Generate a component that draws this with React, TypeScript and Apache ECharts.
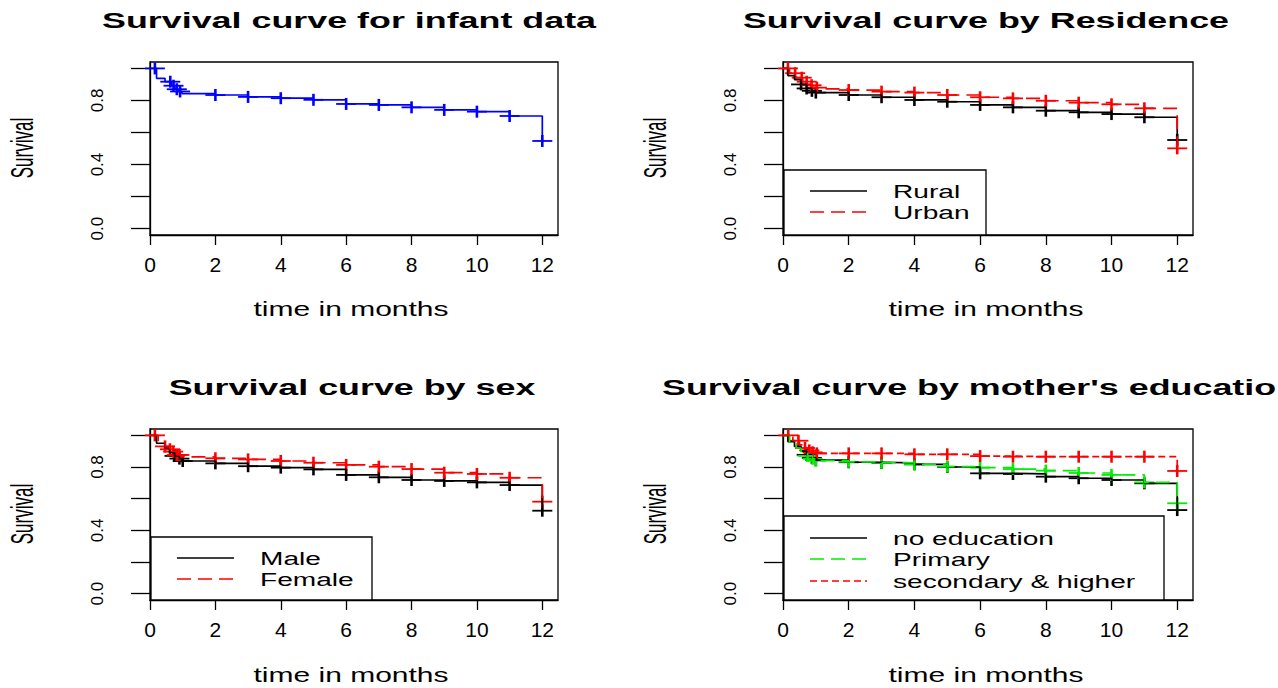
import React, { useEffect, useRef } from "react";
import * as echarts from "echarts";

// ---------- data ----------
const xTicks = [0, 2, 4, 6, 8, 10, 12];
const yTicks = [0, 0.2, 0.4, 0.6, 0.8, 1.0];
const yTickLabels = [0, 0.4, 0.8];

const panelTitles = [
  "Survival curve for infant data",
  "Survival curve by Residence",
  "Survival curve by sex",
  "Survival curve by mother's education",
];
const xAxisTitle = "time in months";
const yAxisTitle = "Survival";

// Panel 1: all infants
const allTimes = [0, 0.2, 0.46, 0.66, 0.76, 0.86, 0.98, 2, 3, 4, 5, 6, 7, 8, 9, 10, 11, 12];
const allSurv = [1, 0.938, 0.917, 0.892, 0.87, 0.856, 0.842, 0.834, 0.822, 0.814, 0.804, 0.778, 0.772, 0.757, 0.741, 0.73, 0.703, 0.547];
const allCens = [0.15, 0.62, 0.72, 0.82, 0.92, 2, 3, 4, 5, 6, 7, 8, 9, 10, 11, 12];

// Panel 2: residence
const ruralTimes = [0, 0.15, 0.35, 0.55, 0.72, 0.88, 1, 2, 3, 4, 5, 6, 7, 8, 9, 10, 11, 12];
const ruralSurv = [1, 0.955, 0.93, 0.9, 0.875, 0.86, 0.849, 0.834, 0.82, 0.803, 0.792, 0.772, 0.757, 0.736, 0.726, 0.715, 0.695, 0.553];
const ruralCens = [0.55, 0.72, 0.88, 1, 2, 3, 4, 5, 6, 7, 8, 9, 10, 11, 12];
const urbanTimes = [0, 0.2, 0.4, 0.6, 0.75, 0.9, 1.05, 2, 3, 4, 5, 6, 7, 8, 9, 10, 11, 12];
const urbanSurv = [1, 0.97, 0.942, 0.917, 0.895, 0.88, 0.872, 0.865, 0.855, 0.849, 0.834, 0.82, 0.813, 0.798, 0.786, 0.776, 0.751, 0.501];
const urbanCens = [0.15, 0.37, 0.57, 0.72, 0.87, 1.03, 2, 3, 4, 5, 6, 7, 8, 9, 10, 11, 12];

// Panel 3: sex
const maleTimes = [0, 0.2, 0.46, 0.6, 0.75, 0.9, 1, 2, 3, 4, 5, 6, 7, 8, 9, 10, 11, 12];
const maleSurv = [1, 0.95, 0.92, 0.89, 0.87, 0.853, 0.838, 0.823, 0.805, 0.796, 0.785, 0.75, 0.735, 0.718, 0.712, 0.703, 0.686, 0.524];
const maleCens = [0.75, 0.9, 1, 2, 3, 4, 5, 6, 7, 8, 9, 10, 11, 12];
const femaleTimes = [0, 0.25, 0.46, 0.61, 0.71, 0.82, 0.95, 2, 3, 4, 5, 6, 7, 8, 9, 10, 11, 12];
const femaleSurv = [1, 0.96, 0.93, 0.912, 0.897, 0.876, 0.864, 0.855, 0.848, 0.838, 0.827, 0.813, 0.802, 0.787, 0.764, 0.756, 0.732, 0.581];
const femaleCens = [0.15, 0.46, 0.61, 0.71, 0.82, 0.9, 2, 3, 4, 5, 6, 7, 8, 9, 10, 11, 12];

// Panel 4: mother's education
const noEduTimes = [0, 0.15, 0.35, 0.55, 0.72, 0.88, 1, 2, 3, 4, 5, 6, 7, 8, 9, 10, 11, 12];
const noEduSurv = [1, 0.96, 0.93, 0.9, 0.877, 0.858, 0.843, 0.83, 0.826, 0.817, 0.8, 0.76, 0.756, 0.739, 0.729, 0.718, 0.697, 0.528];
const noEduCens = [0.72, 0.88, 1, 2, 3, 4, 5, 6, 7, 8, 9, 10, 11, 12];
const primTimes = [0, 0.2, 0.4, 0.55, 0.75, 0.9, 1, 2, 3, 4, 5, 6, 7, 8, 9, 10, 11, 12];
const primSurv = [1, 0.95, 0.92, 0.895, 0.87, 0.852, 0.84, 0.833, 0.827, 0.817, 0.802, 0.796, 0.787, 0.777, 0.762, 0.75, 0.703, 0.571];
const primCens = [0.75, 0.9, 1, 2, 3, 4, 5, 6, 7, 8, 9, 10, 11, 12];
const secTimes = [0, 0.3, 0.5, 0.67, 0.8, 0.9, 1, 2, 3, 4, 5, 6, 7, 8, 9, 10, 11, 12];
const secSurv = [1, 0.966, 0.94, 0.92, 0.905, 0.893, 0.886, 0.886, 0.886, 0.88, 0.88, 0.869, 0.865, 0.865, 0.865, 0.865, 0.865, 0.775];
const secCens = [0.16, 0.47, 0.67, 0.8, 0.9, 1.03, 2, 3, 4, 5, 6, 7, 8, 9, 10, 11, 12];

const legend2 = ["Rural", "Urban"];
const legend3 = ["Male", "Female"];
const legend4 = ["no education", "Primary", "secondary & higher"];

// ---------- styling / layout ----------
const FONT = '"Liberation Sans", Arial, sans-serif';
const BLACK = "#000000";
const RED = "#ff0000";
const GREEN = "#00ee00";
const BLUE = "#0000ff";
const DASH: number[] = [14, 7];
const DOT: number[] = [7, 4];

const grids = [
  { left: 150, top: 62, width: 408, height: 173 },
  { left: 783, top: 62, width: 410, height: 173 },
  { left: 150, top: 429, width: 408, height: 171 },
  { left: 783, top: 429, width: 410, height: 171 },
];

type Curve = { panel: number; times: number[]; surv: number[]; cens: number[]; color: string; dash: any };

const curves: Curve[] = [
  { panel: 0, times: allTimes, surv: allSurv, cens: allCens, color: BLUE, dash: "solid" },
  { panel: 1, times: ruralTimes, surv: ruralSurv, cens: ruralCens, color: BLACK, dash: "solid" },
  { panel: 1, times: urbanTimes, surv: urbanSurv, cens: urbanCens, color: RED, dash: DASH },
  { panel: 2, times: maleTimes, surv: maleSurv, cens: maleCens, color: BLACK, dash: "solid" },
  { panel: 2, times: femaleTimes, surv: femaleSurv, cens: femaleCens, color: RED, dash: DASH },
  { panel: 3, times: noEduTimes, surv: noEduSurv, cens: noEduCens, color: BLACK, dash: "solid" },
  { panel: 3, times: primTimes, surv: primSurv, cens: primCens, color: GREEN, dash: DASH },
  { panel: 3, times: secTimes, surv: secSurv, cens: secCens, color: RED, dash: DOT },
];

function survAt(times: number[], surv: number[], t: number) {
  let v = surv[0];
  for (let i = 0; i < times.length; i++) if (times[i] <= t + 1e-9) v = surv[i];
  return v;
}

function txt(x: number, y: number, text: string, size: number, opts: any = {}) {
  return {
    type: "text",
    x,
    y,
    scaleX: opts.scaleX ?? 1,
    scaleY: opts.scaleY ?? 1,
    rotation: opts.rotation ?? 0,
    z: 100,
    style: {
      text,
      fill: BLACK,
      font: `${opts.bold ? "bold " : ""}${size}px ${FONT}`,
      textAlign: opts.align ?? "center",
      verticalAlign: "middle",
      textVerticalAlign: "middle",
    },
  };
}

function legendBox(x1: number, y1: number, x2: number, y2: number, items: string[], colors: string[], dashes: any[], rowY: number[]) {
  const els: any[] = [
    {
      type: "rect",
      z: 90,
      shape: { x: x1, y: y1, width: x2 - x1, height: y2 - y1 },
      style: { fill: "#ffffff", stroke: BLACK, lineWidth: 1.3 },
    },
  ];
  items.forEach((name, i) => {
    els.push({
      type: "line",
      z: 95,
      shape: { x1: x1 + 26, y1: rowY[i], x2: x1 + 83, y2: rowY[i] },
      style: { stroke: colors[i], lineWidth: 1.6, lineDash: dashes[i] === "solid" ? null : dashes[i] },
    });
    els.push(txt(x1 + 109, rowY[i], name, 19, { align: "left", scaleX: 1.48 }));
  });
  return els;
}

export default function App() {
  const ref = useRef<HTMLDivElement>(null);

  useEffect(() => {
    document.body.style.margin = "0";
    if (!ref.current) return;
    const chart = echarts.init(ref.current, null, { renderer: "svg" });

    const xAxes = grids.map((_, i) => ({
      type: "value",
      gridIndex: i,
      min: 0,
      max: 12.48,
      splitLine: { show: false },
      axisLine: { show: true, onZero: false, lineStyle: { color: BLACK, width: 1.3 } },
      axisTick: { show: true, length: 10, customValues: xTicks, lineStyle: { color: BLACK, width: 1.3 } },
      axisLabel: {
        customValues: xTicks,
        margin: 19,
        color: BLACK,
        fontSize: 21,
        fontFamily: FONT,
        formatter: (v: number) => String(v),
      },
    }));

    const yAxes = grids.map((_, i) => ({
      type: "value",
      gridIndex: i,
      min: -0.04,
      max: 1.04,
      splitLine: { show: false },
      axisLine: { show: true, onZero: false, lineStyle: { color: BLACK, width: 1.3 } },
      axisTick: { show: true, length: 19, customValues: yTicks, lineStyle: { color: BLACK, width: 1.3 } },
      axisLabel: {
        customValues: yTickLabels,
        rotate: 90,
        margin: 44,
        color: BLACK,
        fontSize: 17,
        fontFamily: FONT,
        formatter: (v: number) => v.toFixed(1),
      },
    }));

    const series: any[] = [];
    curves.forEach((c) => {
      series.push({
        type: "line",
        xAxisIndex: c.panel,
        yAxisIndex: c.panel,
        step: "end",
        symbol: "none",
        silent: true,
        data: c.times.map((t, i) => [t, c.surv[i]]),
        lineStyle: { color: c.color, width: 1.7, type: c.dash },
      });
      const marks = c.cens.map((t) => [t, survAt(c.times, c.surv, t)]);
      series.push({
        type: "scatter",
        xAxisIndex: c.panel,
        yAxisIndex: c.panel,
        symbol: "rect",
        symbolSize: [20, 1.8],
        silent: true,
        data: marks,
        itemStyle: { color: c.color, opacity: 1 },
      });
      series.push({
        type: "scatter",
        xAxisIndex: c.panel,
        yAxisIndex: c.panel,
        symbol: "rect",
        symbolSize: [2.6, 12],
        silent: true,
        data: marks,
        itemStyle: { color: c.color, opacity: 1 },
      });
    });

    const graphic: any[] = [];
    const titlePos = [
      [349, 20],
      [986, 20],
      [352, 387],
      [980, 387],
    ];
    panelTitles.forEach((t, i) => graphic.push(txt(titlePos[i][0], titlePos[i][1], t, 22, { bold: true, scaleX: 1.63 })));
    const xNamePos = [
      [351, 309],
      [986, 309],
      [351, 675],
      [986, 675],
    ];
    xNamePos.forEach((p) => graphic.push(txt(p[0], p[1], xAxisTitle, 20, { scaleX: 1.5 })));
    const yNamePos = [
      [22, 148],
      [655, 148],
      [22, 514],
      [655, 514],
    ];
    yNamePos.forEach((p) => graphic.push(txt(p[0], p[1], yAxisTitle, 17, { rotation: Math.PI / 2, scaleY: 1.8 })));

    graphic.push(...legendBox(784, 170, 986, 235, legend2, [BLACK, RED], ["solid", DASH], [191, 212]));
    graphic.push(...legendBox(151, 537, 372, 600, legend3, [BLACK, RED], ["solid", DASH], [558, 579]));
    graphic.push(...legendBox(784, 516, 1164, 600, legend4, [BLACK, GREEN, RED], ["solid", DASH, DOT], [538, 559, 581]));

    chart.setOption({
      animation: false,
      backgroundColor: "#ffffff",
      grid: grids.map((g) => ({ ...g, show: true, borderColor: BLACK, borderWidth: 1.3, backgroundColor: "transparent", containLabel: false })),
      xAxis: xAxes,
      yAxis: yAxes,
      series,
      graphic,
    });

    return () => chart.dispose();
  }, []);

  return <div ref={ref} style={{ width: 1278, height: 688 }} />;
}
